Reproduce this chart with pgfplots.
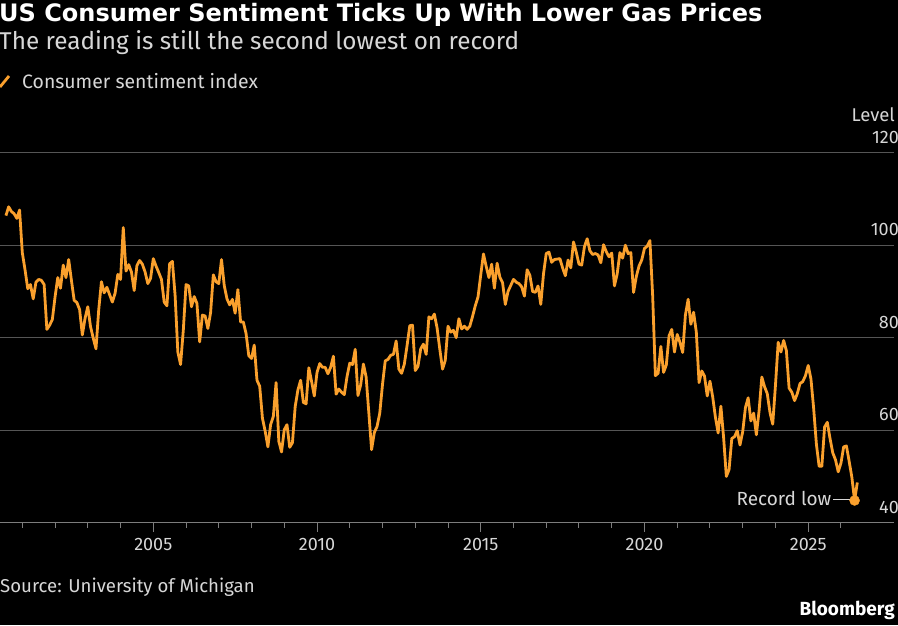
\documentclass[border=0pt]{standalone}
\usepackage{pgfplots}
\pgfplotsset{compat=1.18}
\usepackage{pgfplotstable}
\usepackage{fontspec}
\setmainfont{Fira Sans}
\newfontfamily\titlefont{DejaVu Sans}
\definecolor{lineorange}{RGB}{250,160,45}
\definecolor{gridgray}{RGB}{85,85,85}
\definecolor{axisgray}{RGB}{125,125,125}
\definecolor{txtgray}{RGB}{215,215,215}

% Monthly University of Michigan consumer sentiment, Jun 2000 -- Jun 2026
\pgfplotstableread[row sep=\\]{
v\\
106.4\\ 108.3\\ 107.3\\ 106.8\\ 105.8\\ 107.6\\ 98.4\\
94.7\\ 90.6\\ 91.5\\ 88.4\\ 92.0\\ 92.6\\ 92.4\\ 91.5\\ 81.8\\ 82.7\\ 83.9\\ 88.8\\
93.0\\ 90.7\\ 95.7\\ 93.0\\ 96.9\\ 92.4\\ 88.1\\ 87.6\\ 86.1\\ 80.6\\ 84.2\\ 86.7\\
82.4\\ 79.9\\ 77.6\\ 86.0\\ 92.1\\ 89.7\\ 90.9\\ 89.3\\ 87.7\\ 89.6\\ 93.7\\ 92.6\\
103.8\\ 94.4\\ 95.8\\ 94.2\\ 90.2\\ 95.6\\ 96.7\\ 95.9\\ 94.2\\ 91.7\\ 92.8\\ 97.1\\
95.5\\ 94.1\\ 92.6\\ 87.7\\ 86.9\\ 96.0\\ 96.5\\ 89.1\\ 76.9\\ 74.2\\ 81.6\\ 91.5\\
91.2\\ 86.7\\ 88.9\\ 87.4\\ 79.1\\ 84.9\\ 84.7\\ 82.0\\ 85.4\\ 93.6\\ 92.1\\ 91.7\\
96.9\\ 91.3\\ 88.4\\ 87.1\\ 88.3\\ 85.3\\ 90.4\\ 83.4\\ 83.4\\ 80.9\\ 76.1\\ 75.5\\
78.4\\ 70.8\\ 69.5\\ 62.6\\ 59.8\\ 56.4\\ 61.2\\ 63.0\\ 70.3\\ 57.6\\ 55.3\\ 60.1\\
61.2\\ 56.3\\ 57.3\\ 65.1\\ 68.7\\ 70.8\\ 66.0\\ 65.7\\ 73.5\\ 70.6\\ 67.4\\ 72.5\\
74.4\\ 73.6\\ 73.6\\ 72.2\\ 73.6\\ 76.0\\ 67.8\\ 68.9\\ 68.2\\ 67.7\\ 71.6\\ 74.5\\
74.2\\ 77.5\\ 67.5\\ 69.8\\ 74.3\\ 71.5\\ 63.7\\ 55.8\\ 59.5\\ 60.8\\ 63.7\\ 69.9\\
75.0\\ 75.3\\ 76.2\\ 76.4\\ 79.3\\ 73.2\\ 72.3\\ 74.3\\ 78.3\\ 82.6\\ 82.7\\ 72.9\\
73.8\\ 77.6\\ 78.6\\ 76.4\\ 84.5\\ 84.1\\ 85.1\\ 82.1\\ 77.5\\ 73.2\\ 75.1\\ 82.5\\
81.2\\ 81.6\\ 80.0\\ 84.1\\ 81.9\\ 82.5\\ 81.8\\ 82.5\\ 84.6\\ 86.9\\ 88.8\\ 93.6\\
98.1\\ 95.4\\ 93.0\\ 95.9\\ 90.7\\ 96.1\\ 93.1\\ 91.9\\ 87.2\\ 90.0\\ 91.3\\ 92.6\\
92.0\\ 91.7\\ 91.0\\ 89.0\\ 94.7\\ 93.5\\ 90.0\\ 89.8\\ 91.2\\ 87.2\\ 93.8\\ 98.2\\
98.5\\ 96.3\\ 96.9\\ 97.0\\ 97.1\\ 95.1\\ 93.4\\ 96.8\\ 95.1\\ 100.7\\ 98.5\\ 95.9\\
95.7\\ 99.7\\ 101.4\\ 98.8\\ 98.0\\ 98.2\\ 97.9\\ 96.2\\ 100.1\\ 98.6\\ 97.5\\ 98.3\\
91.2\\ 93.8\\ 98.4\\ 97.2\\ 100.0\\ 98.2\\ 98.4\\ 89.8\\ 93.2\\ 95.5\\ 96.8\\ 99.3\\
99.8\\ 101.0\\ 89.1\\ 71.8\\ 72.3\\ 78.1\\ 72.5\\ 74.1\\ 80.4\\ 81.8\\ 76.9\\ 80.7\\
79.0\\ 76.8\\ 84.9\\ 88.3\\ 82.9\\ 85.5\\ 81.2\\ 70.3\\ 72.8\\ 71.7\\ 67.4\\ 70.6\\
67.2\\ 62.8\\ 59.4\\ 65.2\\ 58.4\\ 50.0\\ 51.5\\ 58.2\\ 58.6\\ 59.9\\ 56.8\\ 59.7\\
64.9\\ 67.0\\ 62.0\\ 63.7\\ 59.0\\ 64.2\\ 71.5\\ 69.4\\ 67.9\\ 63.8\\ 61.3\\ 69.7\\
79.0\\ 76.9\\ 79.4\\ 77.2\\ 69.1\\ 68.2\\ 66.4\\ 67.9\\ 70.1\\ 70.5\\ 71.8\\ 74.0\\
71.1\\ 64.7\\ 57.0\\ 52.2\\ 52.2\\ 60.7\\ 61.7\\ 58.2\\ 55.1\\ 53.6\\ 51.0\\ 52.9\\
56.4\\ 56.6\\ 53.3\\ 49.8\\ 44.8\\ 48.7\\
}\sentiment

\begin{document}
\begin{tikzpicture}[x=1pt,y=1pt]
\useasboundingbox (0,0) rectangle (898,625);
\fill[black] (0,0) rectangle (898,625);

% titles
\node[anchor=base west, inner sep=0pt, text=white, font=\fontsize{24}{24}\titlefont\bfseries] at (-1,603) {US Consumer Sentiment Ticks Up With Lower Gas Prices};
\node[anchor=base west, inner sep=0pt, text=txtgray, font=\fontsize{24.3}{24}\selectfont] at (-1,575) {The reading is still the second lowest on record};
% legend
\draw[lineorange, line width=2.8pt] (0,538) -- (9,549);
\node[anchor=base west, inner sep=0pt, text=txtgray, font=\fontsize{19.4}{19}\selectfont] at (22,536) {Consumer sentiment index};
% unit label
\node[anchor=base east, inner sep=0pt, text=txtgray, font=\fontsize{18.5}{18}\selectfont] at (895,503) {Level};

\begin{axis}[
  at={(0pt,102.3pt)}, anchor=south west,
  scale only axis, width=894pt, height=370pt,
  xmin=2000.319, xmax=2027.62, ymin=40, ymax=120,
  axis x line*=bottom, axis y line*=right,
  x axis line style={axisgray, line width=1pt},
  y axis line style={draw=none},
  xtick={2005,2010,2015,2020,2025},
  xticklabels={2005,2010,2015,2020,2025},
  minor xtick={2001,2002,2003,2004,2006,2007,2008,2009,2011,2012,2013,2014,2016,2017,2018,2019,2021,2022,2023,2024,2026},
  tick align=outside,
  major tick length=9pt, minor tick length=5pt,
  x tick style={axisgray, line width=1pt},
  minor x tick style={axisgray, line width=1pt},
  ytick={40,60,80,100,120},
  yticklabels={40,60,80,100,120},
  ytick style={draw=none},
  ymajorgrids, grid style={gridgray, line width=1pt},
  xticklabel style={text=txtgray, font=\fontsize{18}{18}\selectfont, anchor=north, inner sep=0pt, yshift=-6pt},
  yticklabel style={text=txtgray, font=\fontsize{18}{18}\selectfont, anchor=south east, inner sep=0pt, xshift=-4pt, yshift=9pt},
  clip=false,
]
\addplot[lineorange, line width=2.8pt, line join=round] table[x expr=2000.5+\coordindex/12, y=v] {\sentiment};
\addplot[only marks, mark=*, mark size=5pt, lineorange] coordinates {(2026.4167,44.8)};
\draw[txtgray, line width=1pt] (axis cs:2025.76,45.0) -- (axis cs:2026.3,45.0);
\node[anchor=east, inner sep=1pt, text=txtgray, font=\fontsize{19}{19}\selectfont] at (axis cs:2025.74,45.2) {Record low};
\end{axis}

% footer
\node[anchor=base west, inner sep=0pt, text=txtgray, font=\fontsize{18.6}{18}\selectfont] at (0,33) {Source: University of Michigan};
\node[anchor=base east, inner sep=0pt, text=white, font=\fontsize{19}{19}\selectfont\bfseries] at (895,10) {Bloomberg};
\end{tikzpicture}
\end{document}
